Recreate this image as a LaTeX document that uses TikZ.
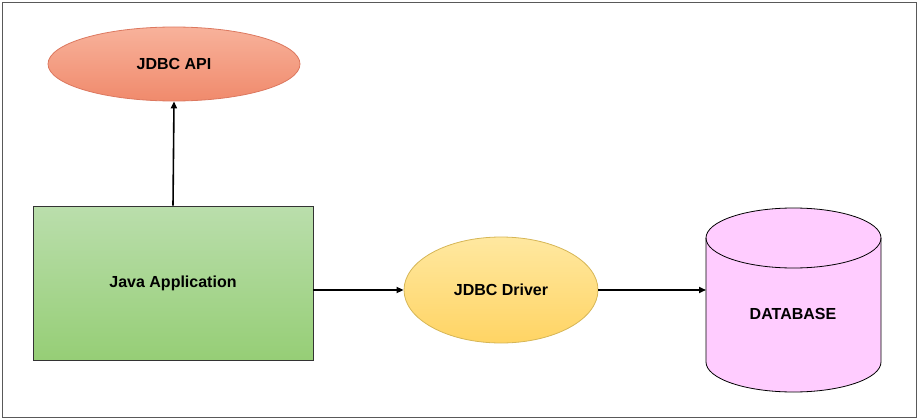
\documentclass[tikz,border=0pt]{standalone}
\usepackage{fontspec}
\setmainfont{Liberation Sans}
\usetikzlibrary{shapes.geometric,arrows.meta}
\definecolor{salT}{RGB}{248,178,155}
\definecolor{salB}{RGB}{240,138,108}
\definecolor{salD}{RGB}{220,120,95}
\definecolor{grT}{RGB}{186,222,172}
\definecolor{grB}{RGB}{150,206,118}
\definecolor{yeT}{RGB}{255,232,160}
\definecolor{yeB}{RGB}{255,212,100}
\definecolor{yeD}{RGB}{214,182,86}
\definecolor{pk}{RGB}{255,204,255}
\begin{document}
\begin{tikzpicture}[x=1pt,y=-1pt,
  lbl/.style={font=\fontsize{16}{19}\selectfont\bfseries},
  arr/.style={line width=1.6pt,-{Triangle[length=7pt,width=6pt]}}]
\useasboundingbox (0,0) rectangle (919,420);
\draw[gray!70!black,line width=0.8pt] (2,2) rectangle (916,417);
\node[ellipse,draw=salD,line width=0.8pt,top color=salT,bottom color=salB,minimum width=252pt,minimum height=74pt,inner sep=0pt,lbl] (api) at (174,64) {JDBC API};
\node[rectangle,draw=black!80,line width=0.8pt,top color=grT,bottom color=grB,minimum width=280pt,minimum height=154pt,inner sep=0pt,lbl] (app) at (173,283) {Java Application};
\node[ellipse,draw=yeD,line width=0.8pt,top color=yeT,bottom color=yeB,minimum width=194pt,minimum height=106pt,inner sep=0pt,lbl] (drv) at (501,290) {JDBC Driver};
\coordinate (dbl) at (706,290);
\fill[pk] (706,238) -- (706,362) arc[x radius=87.5,y radius=30,start angle=180,end angle=0] -- (881,238) -- cycle;
\fill[pk] (793.5,238) ellipse[x radius=87.5,y radius=30];
\draw[line width=0.8pt] (706,238) -- (706,362) arc[x radius=87.5,y radius=30,start angle=180,end angle=0] -- (881,238);
\draw[line width=0.8pt] (793.5,238) ellipse[x radius=87.5,y radius=30];
\node[lbl] (db) at (793,314) {DATABASE};
\draw[arr] (app.north) -- (api.south);
\draw[arr] (app.east|-drv.west) -- (drv.west);
\draw[arr] (drv.east) -- (dbl);
\end{tikzpicture}
\end{document}
